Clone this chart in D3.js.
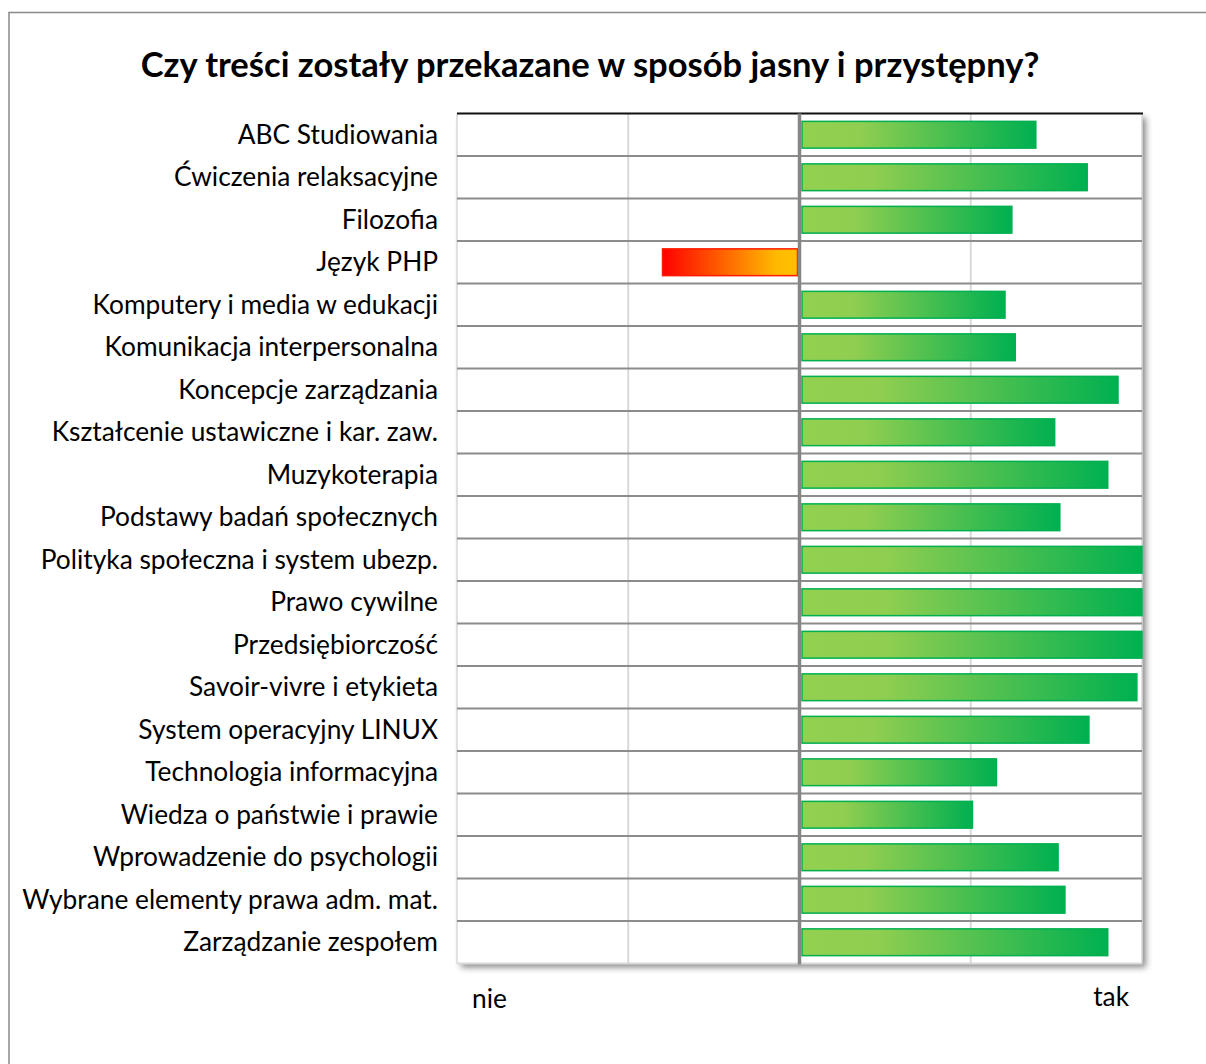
<!DOCTYPE html>
<html>
<head>
<meta charset="utf-8">
<script src="https://cdn.jsdelivr.net/npm/d3@7"></script>
<style>
  html, body { margin: 0; padding: 0; background: #fff; }
  svg { display: block; }
  text { font-family: Lato, "Open Sans", sans-serif; fill: #000; }
</style>
</head>
<body>
<svg id="chart" width="1206" height="1064"></svg>
<script>
const categories = [
  "ABC Studiowania",
  "Ćwiczenia relaksacyjne",
  "Filozofia",
  "Język PHP",
  "Komputery i media w edukacji",
  "Komunikacja interpersonalna",
  "Koncepcje zarządzania",
  "Kształcenie ustawiczne i kar. zaw.",
  "Muzykoterapia",
  "Podstawy badań społecznych",
  "Polityka społeczna i system ubezp.",
  "Prawo cywilne",
  "Przedsiębiorczość",
  "Savoir-vivre i etykieta",
  "System operacyjny LINUX",
  "Technologia informacyjna",
  "Wiedza o państwie i prawie",
  "Wprowadzenie do psychologii",
  "Wybrane elementy prawa adm. mat.",
  "Zarządzanie zespołem"
];
const values = [0.69, 0.84, 0.62, -0.40, 0.60, 0.63, 0.93, 0.745, 0.90, 0.76,
                1.0, 1.0, 1.0, 0.985, 0.845, 0.575, 0.505, 0.755, 0.775, 0.90];
const gridTicks = [-1, -0.5, 0, 0.5, 1];
const title = "Czy treści zostały przekazane w sposób jasny i przystępny?";
const axisLabels = ["nie", "tak"];

const svg = d3.select("#chart");
const W = 1206, H = 1064;
const plot = {left: 457, right: 1142, top: 113.5, bottom: 963.5};

const x = d3.scaleLinear().domain([-1, 1]).range([plot.left, plot.right]);
const y = d3.scaleBand().domain(categories).range([plot.top, plot.bottom]).paddingInner(0.37).paddingOuter(0.185);
const rowY = d3.scaleBand().domain(categories).range([plot.top, plot.bottom]);

const defs = svg.append("defs");
const gG = defs.append("linearGradient").attr("id", "gGreen").attr("x1", "0").attr("x2", "1").attr("y1", "0").attr("y2", "0");
gG.append("stop").attr("offset", "0").attr("stop-color", "#92d050");
gG.append("stop").attr("offset", "0.25").attr("stop-color", "#8fce50");
gG.append("stop").attr("offset", "1").attr("stop-color", "#00b050");
const gR = defs.append("linearGradient").attr("id", "gRed").attr("x1", "1").attr("x2", "0").attr("y1", "0").attr("y2", "0");
gR.append("stop").attr("offset", "0").attr("stop-color", "#ffc000");
gR.append("stop").attr("offset", "0.15").attr("stop-color", "#ffbb00");
gR.append("stop").attr("offset", "1").attr("stop-color", "#ff0000");
const f = defs.append("filter").attr("id", "shadow").attr("x", "-5%").attr("y", "-5%").attr("width", "115%").attr("height", "115%");
f.append("feDropShadow").attr("dx", 4).attr("dy", 4).attr("stdDeviation", 3).attr("flood-color", "#000").attr("flood-opacity", 0.45);

// outer frame
svg.append("rect").attr("x", 9).attr("y", 12.5).attr("width", W + 20).attr("height", H + 20)
  .attr("fill", "#fff").attr("stroke", "#888").attr("stroke-width", 1.5);

// plot background with shadow
svg.append("rect").attr("x", plot.left).attr("y", plot.top)
  .attr("width", plot.right - plot.left).attr("height", plot.bottom - plot.top)
  .attr("fill", "#fff").attr("filter", "url(#shadow)");

// vertical gridlines
svg.append("g").selectAll("line").data(gridTicks.filter(d => d !== 0)).join("line")
  .attr("x1", d => x(d)).attr("x2", d => x(d))
  .attr("y1", plot.top).attr("y2", plot.bottom)
  .attr("stroke", "#d9d9d9").attr("stroke-width", d => Math.abs(d) === 1 ? 1.5 : 2);

// row separators
svg.append("g").selectAll("line").data(categories.slice(1)).join("line")
  .attr("x1", plot.left).attr("x2", plot.right)
  .attr("y1", d => rowY(d)).attr("y2", d => rowY(d))
  .attr("stroke", "#8c8c8c").attr("stroke-width", 2);
svg.append("line").attr("x1", plot.left).attr("x2", plot.right)
  .attr("y1", plot.bottom).attr("y2", plot.bottom).attr("stroke", "#d9d9d9").attr("stroke-width", 2);

// top border
svg.append("line").attr("x1", plot.left).attr("x2", plot.right + 1)
  .attr("y1", plot.top).attr("y2", plot.top).attr("stroke", "#111").attr("stroke-width", 2);

// bars
const data = categories.map((c, i) => ({c, v: values[i]}));
svg.append("g").selectAll("rect").data(data).join("rect")
  .attr("x", d => d.v >= 0 ? x(0) + 2.5 : x(d.v))
  .attr("width", d => d.v >= 0 ? x(d.v) - x(0) - 2.5 : x(0) - x(d.v) - 2)
  .attr("y", d => y(d.c))
  .attr("height", y.bandwidth())
  .attr("fill", d => d.v >= 0 ? "url(#gGreen)" : "url(#gRed)")
  .attr("stroke", d => d.v >= 0 ? "#00b050" : "#ff1a00")
  .attr("stroke-width", 1.5);

// centre line
svg.append("line").attr("x1", x(0)).attr("x2", x(0))
  .attr("y1", plot.top).attr("y2", plot.bottom + 1)
  .attr("stroke", "#868686").attr("stroke-width", 3.5);

// fit helper
function fitWidth(sel, target) {
  const fs = parseFloat(sel.attr("font-size"));
  const w = sel.node().getComputedTextLength();
  sel.attr("font-size", (fs * target / w).toFixed(2));
}

// category labels
const labels = svg.append("g").selectAll("text").data(categories).join("text")
  .attr("x", 438).attr("y", d => rowY(d) + rowY.bandwidth() / 2)
  .attr("dy", "0.35em").attr("text-anchor", "end").attr("font-size", 22)
  .text(d => d);
// scale all labels uniformly so the longest matches reference width
const longest = labels.filter(d => d === "Wybrane elementy prawa adm. mat.");
const lw = longest.node().getComputedTextLength();
const lfs = (22 * 416 / lw).toFixed(2);
labels.attr("font-size", lfs);

// title
const t = svg.append("text").attr("x", 590).attr("y", 77).attr("text-anchor", "middle")
  .attr("font-size", 32).attr("font-weight", "bold").text(title);
fitWidth(t, 899);

// axis end labels
svg.append("text").attr("x", 472).attr("y", 1008).attr("font-size", lfs).text(axisLabels[0]);
svg.append("text").attr("x", 1129).attr("y", 1006).attr("text-anchor", "end").attr("font-size", lfs).text(axisLabels[1]);
</script>
</body>
</html>
